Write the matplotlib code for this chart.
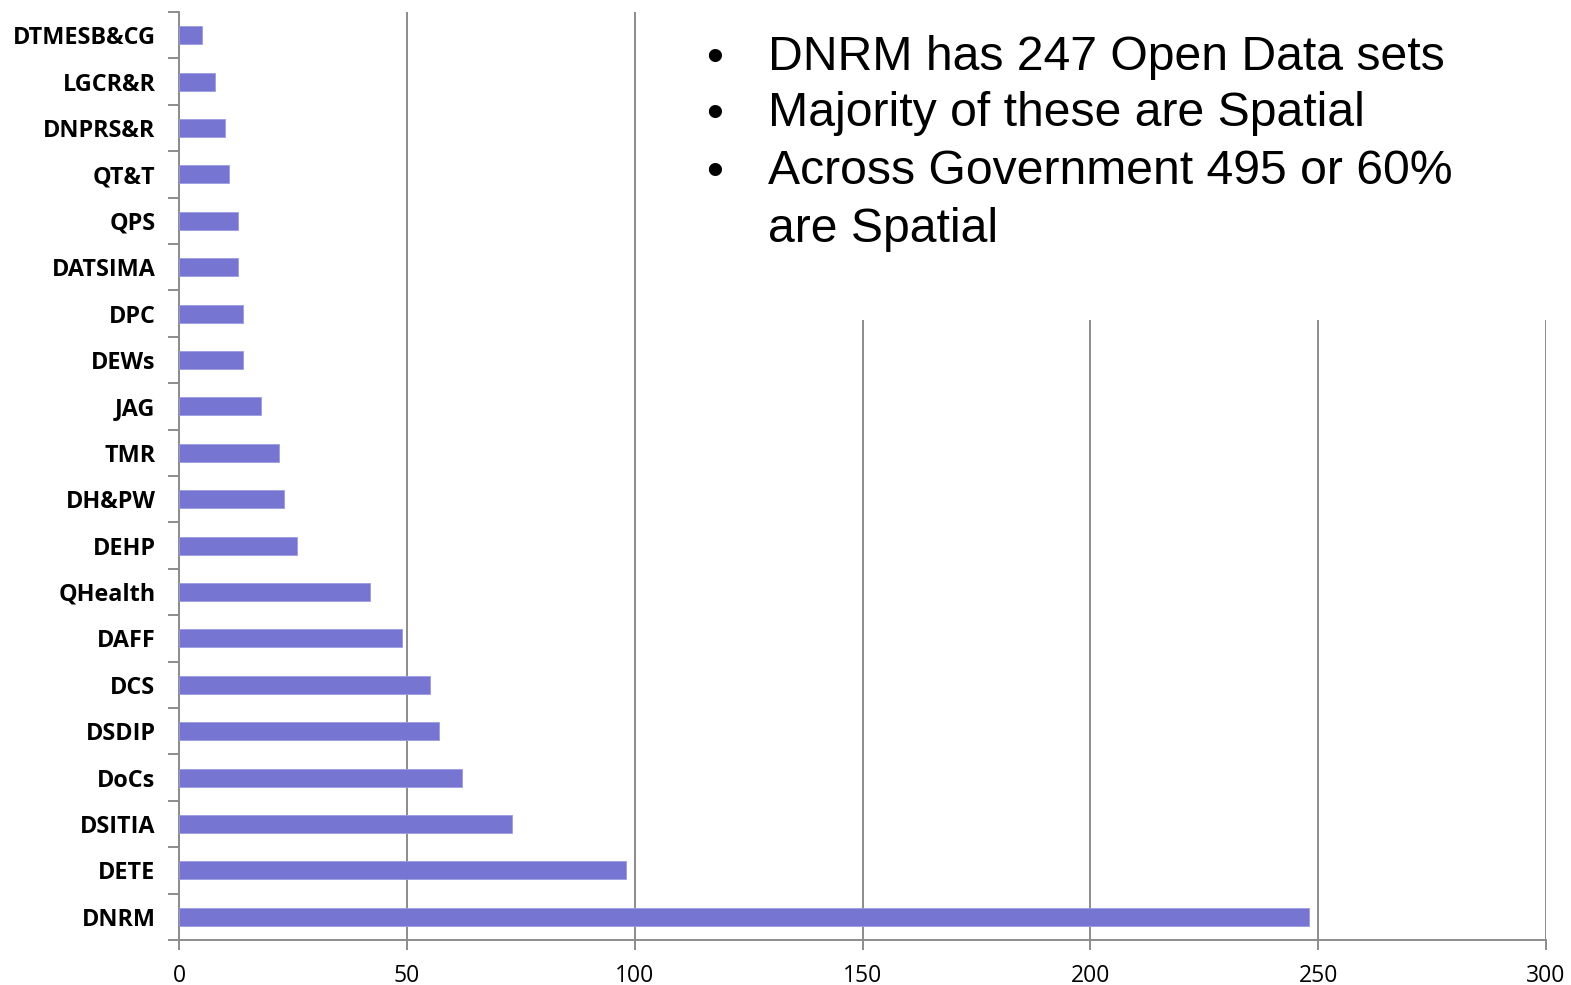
import matplotlib.pyplot as plt
from matplotlib.patches import Rectangle
import numpy as np

# bottom to top as drawn
depts = ['DNRM', 'DETE', 'DSITIA', 'DoCs', 'DSDIP', 'DCS', 'DAFF', 'QHealth',
         'DEHP', 'DH&PW', 'TMR', 'JAG', 'DEWs', 'DPC', 'DATSIMA', 'QPS',
         'QT&T', 'DNPRS&R', 'LGCR&R', 'DTMESB&CG']
datasets = [248, 98, 73, 62, 57, 55, 49, 42, 26, 23, 22, 18, 14, 14, 13, 13,
            11, 10, 8, 5]
xticks = [0, 50, 100, 150, 200, 250, 300]
bullets = ['DNRM has 247 Open Data sets',
           'Majority of these are Spatial',
           'Across Government 495 or 60%',
           'are Spatial']

W, H = 1571, 985
fig = plt.figure(figsize=(W / 100, H / 100), dpi=100)
ax = fig.add_axes([179 / W, 1 - 940 / H, (1546 - 179) / W, (940 - 12) / H])

grid_c = '#8c8c8c'
y = np.arange(len(depts))
ax.barh(y, datasets, height=0.39, color='#7676d2', edgecolor='#9a9ae0',
        linewidth=0.6, zorder=3)

ax.set_xlim(0, 300)
ax.set_ylim(-0.5, len(depts) - 0.5)
ax.set_xticks(xticks)
ax.set_xticklabels([str(t) for t in xticks], fontsize=16.5, family='Open Sans')
ax.grid(axis='x', color=grid_c, linewidth=1.4, zorder=0)
ax.set_axisbelow(True)

# category labels centred, ticks on the category boundaries
ax.set_yticks(np.arange(-0.5, len(depts)), minor=False)
ax.set_yticklabels([])
ax.set_yticks(y, minor=True)
ax.set_yticklabels(depts, minor=True, fontsize=16.8, fontweight='bold', family='Open Sans')
ax.tick_params(axis='y', which='major', length=8, width=1.4, color=grid_c)
ax.tick_params(axis='y', which='minor', length=0, pad=17)
ax.tick_params(axis='x', length=7, width=1.4, color=grid_c, pad=10)

for s in ['top', 'right']:
    ax.spines[s].set_visible(False)
for s in ['left', 'bottom']:
    ax.spines[s].set_color(grid_c)
    ax.spines[s].set_linewidth(1.4)

# white text box over the upper right of the grid
fig.patches.append(Rectangle((680 / W, 1 - 320 / H), 1 - 680 / W, 320 / H,
                             transform=fig.transFigure, facecolor='white',
                             edgecolor='none', zorder=5))
ys = [58, 114, 172, 229]
for i, (t, yy) in enumerate(zip(bullets, ys)):
    if i < 3:
        fig.text(715 / W, 1 - yy / H, '\u2022', fontsize=35, va='center',
                 ha='center', family='Liberation Sans', zorder=6)
    fig.text(768 / W, 1 - yy / H, t, fontsize=34.7, va='center', ha='left',
             family='Liberation Sans', zorder=6)

plt.savefig('out.png', dpi=100)
